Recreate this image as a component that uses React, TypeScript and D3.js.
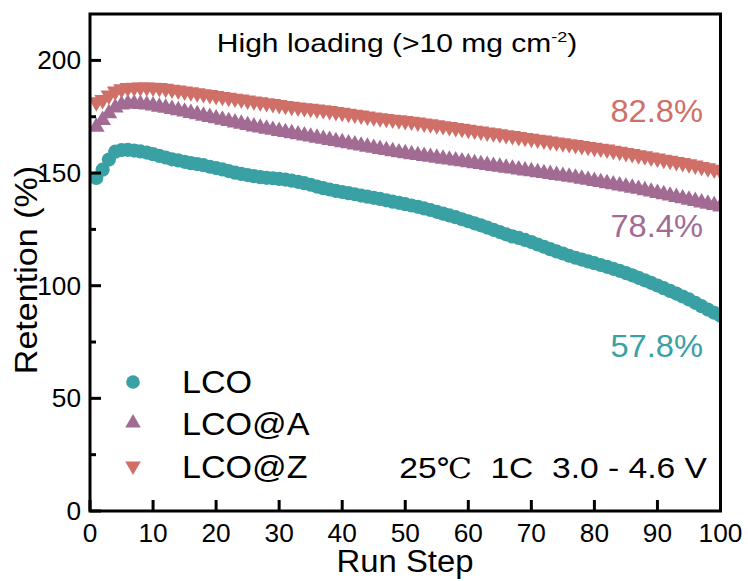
import React from "react";
import * as d3 from "d3";

const steps: number[] = Array.from({ length: 100 }, (_, i) => i + 1);

const lco: number[] = [
  147.8, 151.5, 156.0, 159.5, 160.2, 160.3, 160.0, 159.6, 159.1, 158.4,
  157.6, 156.9, 156.1, 155.6, 155.0, 154.4, 154.0, 153.5, 152.8, 152.2,
  151.6, 150.9, 150.2, 149.6, 149.1, 148.6, 148.2, 147.9, 147.7, 147.4,
  147.1, 146.6, 146.1, 145.5, 144.8, 144.0, 143.3, 142.7, 142.1, 141.6,
  141.1, 140.6, 140.0, 139.5, 139.0, 138.5, 137.9, 137.3, 136.8, 136.2,
  135.6, 135.0, 134.3, 133.6, 132.8, 132.0, 131.2, 130.4, 129.5, 128.6,
  127.7, 126.8, 125.8, 124.8, 123.8, 122.8, 121.9, 121.2, 120.3, 119.4,
  118.3, 117.3, 116.2, 115.2, 114.3, 113.3, 112.4, 111.6, 110.8, 110.0,
  109.2, 108.4, 107.5, 106.6, 105.6, 104.6, 103.5, 102.4, 101.3, 100.1,
  98.9, 97.7, 96.5, 95.2, 93.9, 92.4, 90.9, 89.4, 88.0, 86.7,
];

const lcoA: number[] = [
  170.5, 173.5, 176.5, 179.0, 180.3, 180.8, 180.8, 180.6, 180.3, 179.9,
  179.4, 178.9, 178.4, 177.8, 177.2, 176.6, 176.0, 175.4, 174.8, 174.2,
  173.6, 173.0, 172.4, 171.8, 171.2, 170.6, 170.1, 169.6, 169.1, 168.6,
  168.1, 167.6, 167.1, 166.6, 166.1, 165.6, 165.1, 164.6, 164.1, 163.6,
  163.1, 162.6, 162.1, 161.6, 161.1, 160.6, 160.1, 159.6, 159.1, 158.7,
  158.3, 157.9, 157.5, 157.1, 156.7, 156.3, 155.9, 155.5, 155.1, 154.7,
  154.3, 153.9, 153.5, 153.1, 152.7, 152.3, 151.9, 151.5, 151.1, 150.7,
  150.3, 149.9, 149.5, 149.1, 148.7, 148.3, 147.9, 147.4, 146.9, 146.4,
  145.9, 145.4, 144.9, 144.4, 143.9, 143.4, 142.9, 142.3, 141.7, 141.1,
  140.5, 139.9, 139.3, 138.7, 138.1, 137.5, 136.9, 136.3, 135.7, 135.1,
];

const lcoZ: number[] = [
  181.5, 182.5, 184.5, 186.3, 187.3, 187.8, 188.0, 188.1, 188.1, 188.0,
  187.8, 187.5, 187.1, 186.7, 186.3, 185.9, 185.5, 185.1, 184.7, 184.3,
  183.9, 183.5, 183.1, 182.7, 182.3, 181.9, 181.5, 181.1, 180.7, 180.3,
  179.9, 179.5, 179.2, 178.9, 178.6, 178.3, 178.0, 177.6, 177.2, 176.8,
  176.4, 176.0, 175.6, 175.2, 174.8, 174.4, 174.1, 173.8, 173.5, 173.2,
  172.9, 172.5, 172.1, 171.7, 171.3, 170.9, 170.5, 170.1, 169.7, 169.3,
  168.9, 168.5, 168.1, 167.7, 167.3, 166.9, 166.5, 166.1, 165.7, 165.3,
  164.9, 164.5, 164.1, 163.7, 163.3, 162.9, 162.5, 162.1, 161.7, 161.3,
  160.9, 160.5, 160.0, 159.5, 159.0, 158.5, 158.0, 157.5, 157.0, 156.5,
  156.0, 155.5, 155.0, 154.5, 154.0, 153.4, 152.8, 152.2, 151.6, 151.0,
];

const xTicks: number[] = [0, 10, 20, 30, 40, 50, 60, 70, 80, 90, 100];
const yTicks: number[] = [0, 50, 100, 150, 200];
const yMinorTicks: number[] = [25, 75, 125, 175];
const seriesNames: string[] = ["LCO", "LCO@A", "LCO@Z"];
const retentionLabels: string[] = ["57.8%", "78.4%", "82.8%"];

const C_LCO = "#39a0a4";
const C_A = "#a26b93";
const C_Z = "#cf6f67";
const FONT = "'Liberation Sans', Arial, Helvetica, sans-serif";

const W = 748;
const H = 581;
const L = 90;
const R = 720.5;
const T = 14;
const B = 511;

const T2 = ({ x, y, size, sx = 1, anchor = "start", rot = 0, fill = "#000", children, family = FONT }: any) => (
  <text
    transform={`translate(${x},${y}) rotate(${rot}) scale(${sx},1)`}
    fontSize={size}
    fontFamily={family}
    textAnchor={anchor}
    fill={fill}
  >
    {children}
  </text>
);

export default function App() {
  const xs = d3.scaleLinear().domain([0, 100]).range([L, R]);
  const ys = d3.scaleLinear().domain([0, 220.6]).range([B, T]);
  const triUp = d3.symbol().type(d3.symbolTriangle).size(120)() as string;
  const triLeg = d3.symbol().type(d3.symbolTriangle).size(105)() as string;
  const circle = 7.1;

  const ann = [
    { label: retentionLabels[2], color: C_Z, y: 121.5 },
    { label: retentionLabels[1], color: C_A, y: 237 },
    { label: retentionLabels[0], color: C_LCO, y: 357 },
  ];

  return (
    <svg width={W} height={H} style={{ position: "absolute", left: 0, top: 0, background: "#fff" }}>
      <defs>
        <clipPath id="plotclip">
          <rect x={L} y={T} width={R - L} height={B - T} />
        </clipPath>
      </defs>
      <rect x={0} y={0} width={W} height={H} fill="#fff" />
      <g clipPath="url(#plotclip)">
        {steps.map((s, i) => (
          <circle key={"c" + i} cx={xs(s)} cy={ys(lco[i])} r={circle} fill={C_LCO} />
        ))}
        {steps.map((s, i) => (
          <path key={"a" + i} d={triUp} transform={`translate(${xs(s)},${ys(lcoA[i])})`} fill={C_A} />
        ))}
        {steps.map((s, i) => (
          <path key={"z" + i} d={triUp} transform={`translate(${xs(s)},${ys(lcoZ[i])}) rotate(180)`} fill={C_Z} />
        ))}
      </g>

      {/* ticks */}
      {xTicks.map((t) => (
        <line key={"xt" + t} x1={xs(t)} x2={xs(t)} y1={B} y2={B - 11} stroke="#000" strokeWidth={3} />
      ))}
      {yTicks.map((t) => (
        <line key={"yt" + t} x1={L} x2={L + 11} y1={ys(t)} y2={ys(t)} stroke="#000" strokeWidth={3} />
      ))}
      {yMinorTicks.map((t) => (
        <line key={"ym" + t} x1={L} x2={L + 6} y1={ys(t)} y2={ys(t)} stroke="#000" strokeWidth={3} />
      ))}
      <rect x={L} y={T} width={R - L} height={B - T} fill="none" stroke="#000" strokeWidth={3} />

      {/* tick labels */}
      {xTicks.map((t) => (
        <T2 key={"xl" + t} x={xs(t)} y={542} size={25} sx={1.05} anchor="middle">
          {String(t)}
        </T2>
      ))}
      {yTicks.map((t) => (
        <T2 key={"yl" + t} x={81} y={ys(t) + 9} size={25} sx={1.05} anchor="end">
          {String(t)}
        </T2>
      ))}

      {/* axis titles */}
      <T2 x={405} y={572} size={31} sx={1.06} anchor="middle">Run Step</T2>
      <T2 x={37} y={270} size={31} sx={1.1} anchor="middle" rot={-90}>Retention (%)</T2>

      {/* title */}
      <text
        transform={`translate(397,52) scale(1.2,1)`}
        fontSize={25}
        fontFamily={FONT}
        textAnchor="middle"
      >
        High loading (&gt;10 mg cm
        <tspan fontSize={15} dy={-10}>-2</tspan>
        <tspan dy={10}>)</tspan>
      </text>

      {/* retention annotations */}
      {ann.map((a) => (
        <T2 key={a.label} x={703} y={a.y} size={32} sx={1.02} anchor="end" fill={a.color}>
          {a.label}
        </T2>
      ))}

      {/* legend */}
      <circle cx={133} cy={382} r={6.8} fill={C_LCO} />
      <path d={triLeg} transform="translate(133,423)" fill={C_A} />
      <path d={triLeg} transform="translate(133,466) rotate(180)" fill={C_Z} />
      <T2 x={182} y={393} size={31} sx={1.1}>{seriesNames[0]}</T2>
      <T2 x={182} y={435} size={31} sx={1.1}>{seriesNames[1]}</T2>
      <T2 x={182} y={478} size={31} sx={1.1}>{seriesNames[2]}</T2>

      {/* conditions */}
      <text transform="translate(707,478) scale(1.12,1)" fontSize={30} fontFamily={FONT} textAnchor="end">
        25<tspan fontFamily="'Liberation Serif', 'DejaVu Serif', serif" fontSize={28}>℃</tspan>
        {"\u00a0\u00a01C\u00a0\u00a03.0 - 4.6 V"}
      </text>
    </svg>
  );
}
